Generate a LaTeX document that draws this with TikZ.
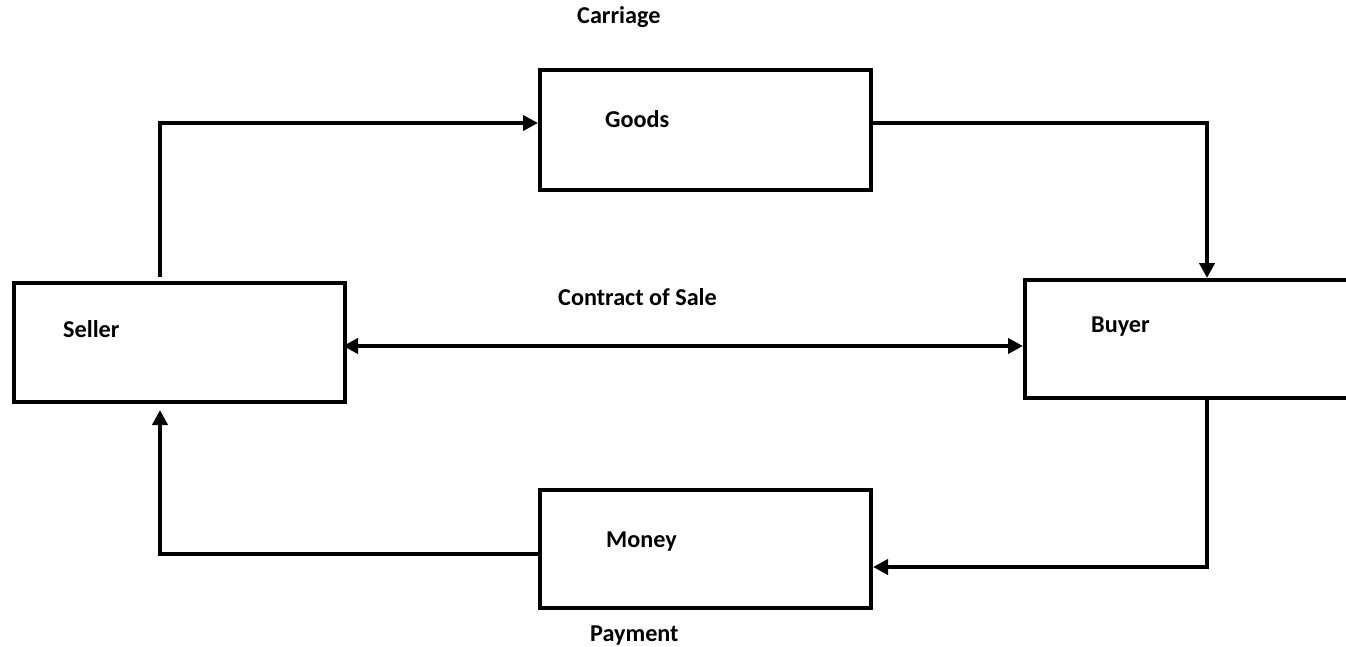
\documentclass[tikz,border=0pt]{standalone}
\usepackage{fontspec}
\setmainfont{Carlito}
\usetikzlibrary{arrows.meta}
\begin{document}
\begin{tikzpicture}[x=1pt,y=-1pt,
  box/.style={draw=black, line width=4.5pt, rectangle, inner sep=0pt, outer sep=0pt, anchor=north west},
  txt/.style={anchor=base west, inner sep=0pt, font=\fontsize{24.2}{29}\selectfont\bfseries},
  conn/.style={draw=black, line width=4pt, -{Triangle[length=15pt,width=15pt]}},
  dconn/.style={draw=black, line width=4pt, {Triangle[length=15pt,width=15pt]}-{Triangle[length=15pt,width=15pt]}}]
\path[use as bounding box, clip] (0,0) rectangle (1346,646);
\fill[white] (0,0) rectangle (1346,646);
% boxes
\node[box, minimum width=331pt, minimum height=119pt] (seller) at (14,283) {};
\node[box, minimum width=331pt, minimum height=120pt] (goods) at (540,70) {};
\node[box, minimum width=345pt, minimum height=118pt] (buyer) at (1025,280) {};
\node[box, minimum width=331pt, minimum height=118pt] (money) at (540,490) {};
% texts
\node[txt] (sellertxt) at (63,337) {Seller};
\node[txt] (goodstxt) at (605,127) {Goods};
\node[txt] (buyertxt) at (1091,332) {Buyer};
\node[txt] (moneytxt) at (606,547) {Money};
\node[txt] (carriage) at (577,23) {Carriage};
\node[txt] (contract) at (558,305) {Contract of Sale};
\node[txt] (payment) at (590,641) {Payment};
% connectors
\draw[conn] ([xshift=146pt,yshift=6pt]seller.north west) |- ([xshift=-2pt,yshift=-53pt]goods.north west);
\draw[conn] ([xshift=2pt,yshift=-53pt]goods.north east) -| ([xshift=182pt,yshift=2pt]buyer.north west);
\draw[conn] ([xshift=182pt,yshift=-2pt]buyer.south west) |- ([xshift=2pt,yshift=-77pt]money.north east);
\draw[conn] ([xshift=-2pt,yshift=-64pt]money.north west) -| ([xshift=146pt,yshift=-8pt]seller.south west);
\draw[dconn] ([xshift=-2pt,yshift=-3.5pt]seller.east) -- ([yshift=-3.5pt,xshift=-2pt]seller.east -| buyer.west);
\end{tikzpicture}
\end{document}
